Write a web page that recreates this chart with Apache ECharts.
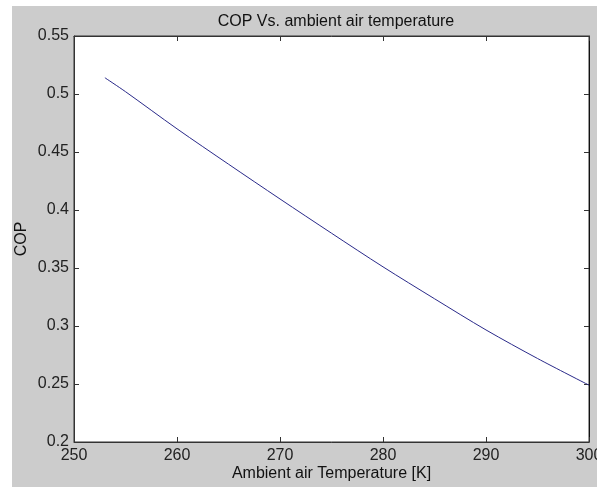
<!DOCTYPE html>
<html>
<head>
<meta charset="utf-8">
<script src="https://cdn.jsdelivr.net/npm/echarts@6/dist/echarts.min.js"></script>
<style>
  html, body { margin: 0; padding: 0; background: #fff; }
  #chart { position: absolute; left: 12px; top: 6px; width: 585px; height: 481px; background: #cccccc; }
</style>
</head>
<body>
<div id="chart"></div>
<script>
// ambient air temperature [K] and COP
const temps = [253, 255, 260, 265, 270, 275, 280, 285, 290, 295, 300]
const cop = [0.514, 0.502, 0.470, 0.4395, 0.4095, 0.380, 0.351, 0.3235, 0.2966, 0.272, 0.249]

const xTicks = [250, 260, 270, 280, 290, 300]
const yTicks = [0.2, 0.25, 0.3, 0.35, 0.4, 0.45, 0.5, 0.55]

const chart = echarts.init(document.getElementById('chart'))

const font = 'Liberation Sans, Arial, sans-serif'
const boxColor = '#333'

const tickStyle = { show: true, inside: true, length: 5, lineStyle: { color: boxColor, width: 1 } }

chart.setOption({
  animation: false,
  title: {
    text: 'COP Vs. ambient air temperature',
    left: 319,
    textAlign: 'center',
    top: 3,
    textStyle: { fontFamily: font, fontSize: 16, fontWeight: 'normal', color: '#111' },
  },
  grid: {
    left: 62, top: 30, right: 8, bottom: 45,
    outerBoundsMode: 'none', containLabel: false,
    show: true, backgroundColor: '#fff', borderColor: boxColor, borderWidth: 1,
  },
  xAxis: [
    {
      type: 'value', min: 250, max: 300, interval: 10,
      name: 'Ambient air Temperature [K]', nameLocation: 'middle', nameGap: 24,
      nameMoveOverlap: false,
      nameTextStyle: { fontFamily: font, fontSize: 16, color: '#111' },
      axisLine: { show: true, onZero: false, lineStyle: { color: boxColor } },
      axisTick: tickStyle,
      axisLabel: { margin: 6, fontFamily: font, fontSize: 16, color: '#222' },
      splitLine: { show: false },
    },
    {
      type: 'value', position: 'top', min: 250, max: 300, interval: 10,
      axisLine: { show: true, onZero: false, lineStyle: { color: boxColor } },
      axisTick: tickStyle,
      axisLabel: { show: false },
      splitLine: { show: false },
    },
  ],
  yAxis: [
    {
      type: 'value', min: 0.2, max: 0.55, interval: 0.05,
      name: 'COP', nameLocation: 'middle', nameGap: 44, nameRotate: 90,
      nameMoveOverlap: false,
      nameTextStyle: { fontFamily: font, fontSize: 16, color: '#111' },
      axisLine: { show: true, onZero: false, lineStyle: { color: boxColor } },
      axisTick: tickStyle,
      axisLabel: {
        margin: 5, fontFamily: font, fontSize: 16, color: '#222',
        formatter: v => String(+v.toFixed(2)),
      },
      splitLine: { show: false },
    },
    {
      type: 'value', position: 'right', min: 0.2, max: 0.55, interval: 0.05,
      axisLine: { show: true, onZero: false, lineStyle: { color: '#111' } },
      axisTick: tickStyle,
      axisLabel: { show: false },
      splitLine: { show: false },
    },
  ],
  series: [
    {
      type: 'line',
      data: temps.map((t, i) => [t, cop[i]]),
      smooth: 0.3,
      showSymbol: false,
      lineStyle: { color: '#2a2a8a', width: 1 },
      emphasis: { disabled: true },
    },
  ],
})
</script>
</body>
</html>
